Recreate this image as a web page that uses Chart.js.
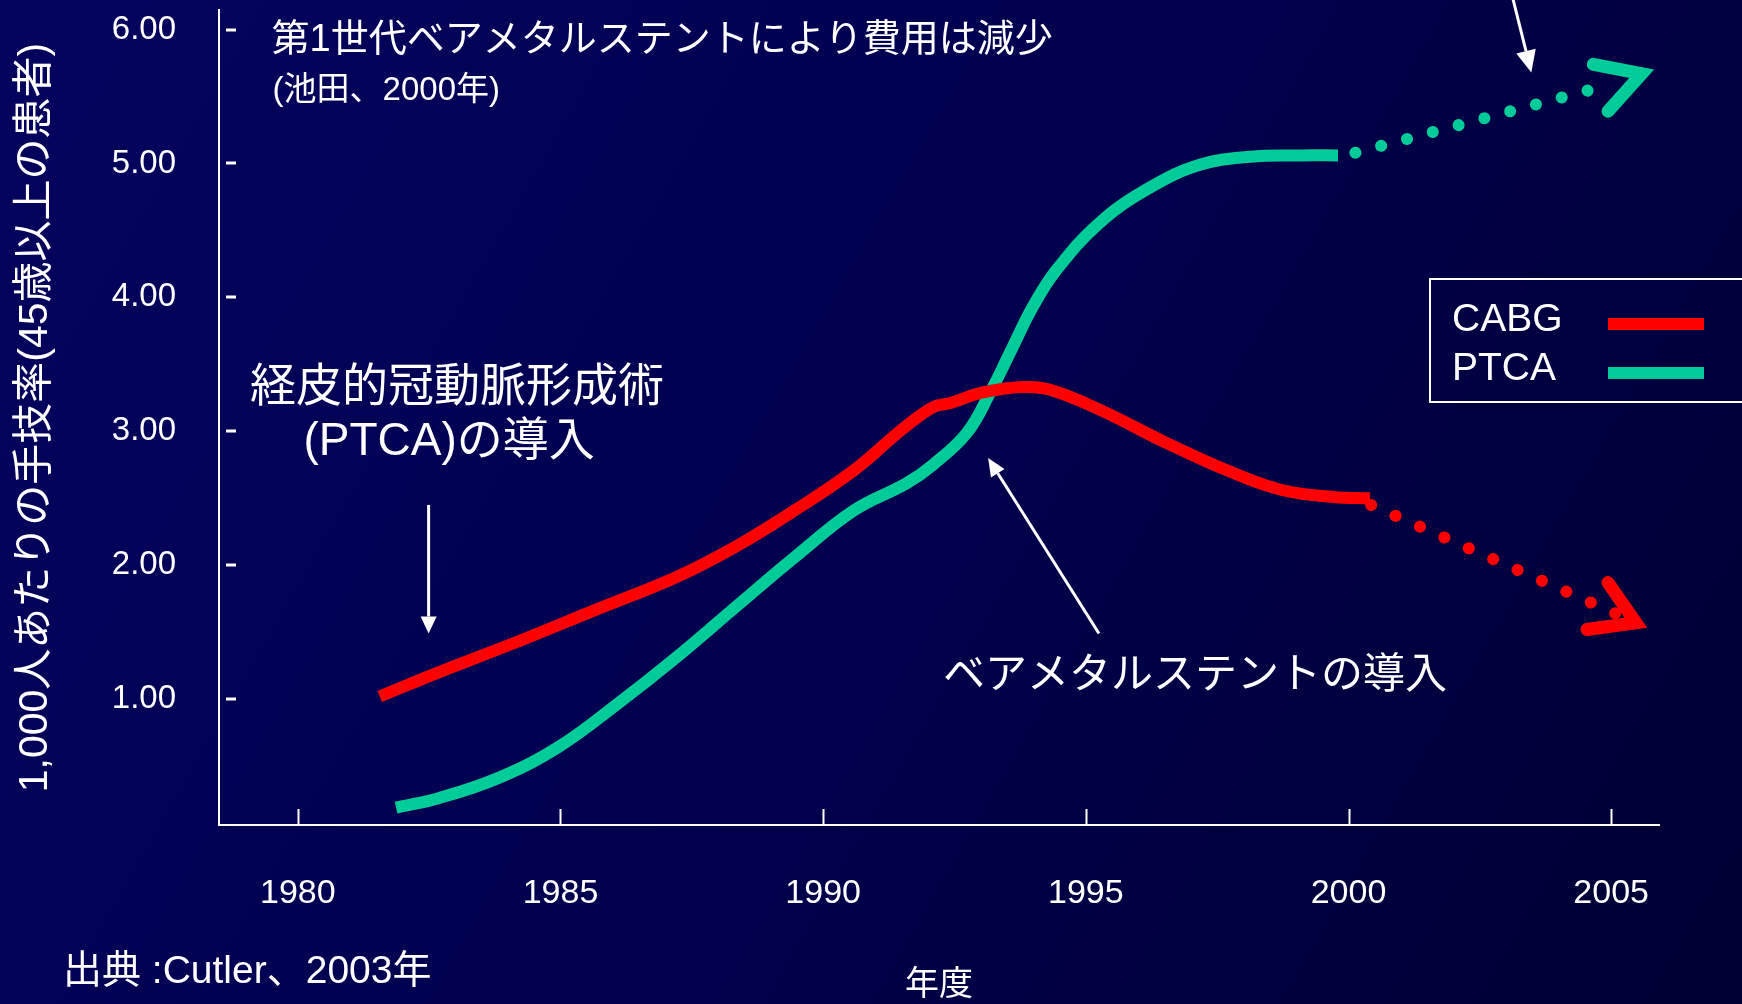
<!DOCTYPE html>
<html lang="ja">
<head>
<meta charset="UTF-8">
<title>CABG・PTCA 手技率の推移</title>
<script src="https://cdn.jsdelivr.net/npm/chart.js"></script>
<style>
  html, body { margin: 0; padding: 0; background: #00004a; overflow: hidden; }
  #wrap { width: 1742px; height: 1004px; }
</style>
</head>
<body>
<div id="wrap"><canvas id="rateChart" width="1742" height="1004"></canvas></div>
<script>
// 年度と目盛り
const years = [1980, 1985, 1990, 1995, 2000, 2005];
const rateTicks = [1, 2, 3, 4, 5, 6];

// CABG(冠動脈バイパス術)
const cabgYears = [1981.56, 1982.68, 1984.19, 1985.69, 1987.20, 1988.34, 1989.46, 1990.59,
                   1991.52, 1992.09, 1992.41, 1993.04, 1993.80, 1994.32, 1995.27, 1996.55,
                   1997.80, 1998.75, 1999.71, 2000.41];
const cabgRates = [1.02, 1.20, 1.43, 1.67, 1.91, 2.14, 2.41, 2.71,
                   3.02, 3.18, 3.21, 3.29, 3.33, 3.31, 3.16, 2.91,
                   2.69, 2.56, 2.51, 2.50];

// PTCA(経皮的冠動脈形成術)
const ptcaYears = [1981.87, 1982.68, 1983.81, 1984.95, 1986.07, 1987.20, 1988.34, 1989.46,
                   1990.59, 1991.58, 1992.09, 1992.74, 1993.18, 1993.56, 1993.99, 1994.45,
                   1995.27, 1996.22, 1997.17, 1998.13, 1999.08, 1999.80];
const ptcaRates = [0.19, 0.26, 0.41, 0.64, 0.96, 1.31, 1.69, 2.06,
                   2.41, 2.61, 2.75, 2.99, 3.29, 3.59, 3.93, 4.21,
                   4.56, 4.82, 4.99, 5.05, 5.06, 5.06];

// 2000年以降の見通し(点線)
const cabgTrendYears = [2000.43, 2005.08];
const cabgTrendRates = [2.45, 1.64];
const ptcaTrendYears = [2000.13, 2004.99];
const ptcaTrendRates = [5.08, 5.59];

// 点線の先の矢じり
const cabgHeadYears = [2004.94, 2005.47, 2004.54];
const cabgHeadRates = [1.87, 1.57, 1.52];
const ptcaHeadYears = [2004.66, 2005.58, 2004.94];
const ptcaHeadRates = [5.74, 5.67, 5.39];

const RED = '#ff0000';
const TEAL = '#00cc99';
const FONT = '"Liberation Sans", "Noto Sans CJK JP", sans-serif';

const pts = (xs, ys) => xs.map((x, i) => ({ x: x, y: ys[i] }));

// 注記(位置は年度・手技率で指定)
const notes = [
  { text: '第1世代ベアメタルステントにより費用は減少', x: 1979.50, y: 5.915, size: 38, align: 'left' },
  { text: '(池田、2000年)', x: 1979.52, y: 5.54, size: 33, align: 'left' },
  { text: '経皮的冠動脈形成術', x: 1983.03, y: 3.32, size: 46, align: 'center' },
  { text: '(PTCA)の導入', x: 1982.88, y: 2.92, size: 46, align: 'center' },
  { text: 'ベアメタルステントの導入', x: 1992.28, y: 1.17, size: 42, align: 'left' }
];
const arrows = [
  { from: [1982.49, 2.45], to: [1982.49, 1.49], head: 17, width: 16 },
  { from: [1995.25, 1.49], to: [1993.14, 2.80], head: 18, width: 16 },
  { from: [2003.11, 6.26], to: [2003.48, 5.68], head: 22, width: 20 }
];

function drawArrow(ctx, x1, y1, x2, y2, head, width) {
  const ang = Math.atan2(y2 - y1, x2 - x1);
  const bx = x2 - head * Math.cos(ang), by = y2 - head * Math.sin(ang);
  ctx.strokeStyle = '#fff';
  ctx.fillStyle = '#fff';
  ctx.lineWidth = 3;
  ctx.beginPath();
  ctx.moveTo(x1, y1);
  ctx.lineTo(bx, by);
  ctx.stroke();
  ctx.beginPath();
  ctx.moveTo(x2, y2);
  ctx.lineTo(bx + width / 2 * Math.sin(ang), by - width / 2 * Math.cos(ang));
  ctx.lineTo(bx - width / 2 * Math.sin(ang), by + width / 2 * Math.cos(ang));
  ctx.closePath();
  ctx.fill();
}

const slideDecor = {
  id: 'slideDecor',
  beforeDraw(chart) {
    const { ctx, width, height } = chart;
    const g = ctx.createLinearGradient(0, 0, width, height);
    g.addColorStop(0, '#04045f');
    g.addColorStop(0.5, '#00004e');
    g.addColorStop(1, '#000033');
    ctx.save();
    ctx.fillStyle = g;
    ctx.fillRect(0, 0, width, height);
    ctx.restore();
  },
  afterDraw(chart) {
    const { ctx, chartArea } = chart;
    const xs = chart.scales.x, ys = chart.scales.y;
    ctx.save();

    // 目盛り線(軸の内側)
    ctx.strokeStyle = '#fff';
    ctx.lineWidth = 2;
    years.forEach(v => {
      const px = Math.round(xs.getPixelForValue(v)) + 0.5;
      ctx.beginPath();
      ctx.moveTo(px, chartArea.bottom);
      ctx.lineTo(px, chartArea.bottom - 16);
      ctx.stroke();
    });
    ctx.lineWidth = 3;
    rateTicks.forEach(v => {
      const py = Math.round(ys.getPixelForValue(v));
      ctx.beginPath();
      ctx.moveTo(chartArea.left + 7, py);
      ctx.lineTo(chartArea.left + 17, py);
      ctx.stroke();
    });

    // 凡例
    ctx.lineWidth = 2;
    ctx.strokeRect(1430, 279, 330, 123);
    ctx.font = '39px ' + FONT;
    ctx.textBaseline = 'middle';
    ctx.textAlign = 'left';
    [0, 1].forEach((i, k) => {
      const ds = chart.data.datasets[i];
      const cy = 320 + k * 49;
      ctx.fillStyle = '#fff';
      ctx.fillText(ds.label, 1452, cy);
      ctx.fillStyle = ds.borderColor;
      ctx.fillRect(1608, cy - 2, 96, 12);
    });

    // 注記
    ctx.fillStyle = '#fff';
    notes.forEach(n => {
      ctx.font = n.size + 'px ' + FONT;
      ctx.textAlign = n.align;
      ctx.fillText(n.text, xs.getPixelForValue(n.x), ys.getPixelForValue(n.y));
    });
    arrows.forEach(a => {
      drawArrow(ctx,
        xs.getPixelForValue(a.from[0]), ys.getPixelForValue(a.from[1]),
        xs.getPixelForValue(a.to[0]), ys.getPixelForValue(a.to[1]),
        a.head, a.width);
    });

    // 出典
    ctx.fillStyle = '#fff';
    ctx.font = '39px ' + FONT;
    ctx.textAlign = 'left';
    ctx.fillText('出典 :Cutler、2003年', 63, 972);
    ctx.restore();
  }
};

const tickFont = { family: FONT, size: 34 };

new Chart(document.getElementById('rateChart'), {
  type: 'line',
  data: {
    datasets: [
      { label: 'CABG', data: pts(cabgYears, cabgRates), borderColor: RED, borderWidth: 12,
        tension: 0.4, pointRadius: 0, borderCapStyle: 'butt', borderJoinStyle: 'round' },
      { label: 'PTCA', data: pts(ptcaYears, ptcaRates), borderColor: TEAL, borderWidth: 12,
        tension: 0.4, pointRadius: 0, borderCapStyle: 'butt', borderJoinStyle: 'round' },
      { label: 'CABG見通し', data: pts(cabgTrendYears, cabgTrendRates), borderColor: RED, borderWidth: 12,
        borderDash: [0.1, 26.6], borderCapStyle: 'round', pointRadius: 0 },
      { label: 'PTCA見通し', data: pts(ptcaTrendYears, ptcaTrendRates), borderColor: TEAL, borderWidth: 12,
        borderDash: [0.1, 26.6], borderCapStyle: 'round', pointRadius: 0 },
      { label: 'CABG矢印', data: pts(cabgHeadYears, cabgHeadRates), borderColor: RED, borderWidth: 13,
        borderCapStyle: 'round', borderJoinStyle: 'miter', pointRadius: 0 },
      { label: 'PTCA矢印', data: pts(ptcaHeadYears, ptcaHeadRates), borderColor: TEAL, borderWidth: 13,
        borderCapStyle: 'round', borderJoinStyle: 'miter', pointRadius: 0 }
    ]
  },
  options: {
    responsive: false,
    animation: false,
    clip: false,
    layout: { padding: { top: 10, right: 83, left: 0, bottom: 0 } },
    plugins: { legend: { display: false }, tooltip: { enabled: false } },
    scales: {
      x: {
        type: 'linear',
        min: 1978.5,
        max: 2005.91,
        afterBuildTicks: s => { s.ticks = years.map(v => ({ value: v })); },
        afterFit: s => { s.height = 179; s.paddingLeft = 0; s.paddingRight = 0; },
        grid: { display: false, drawTicks: false },
        border: { color: '#ffffff', width: 2 },
        ticks: { color: '#fff', padding: 48, font: tickFont, maxRotation: 0, autoSkip: false,
                 callback: v => String(v) },
        title: { display: true, text: '年度', color: '#fff',
                 font: { family: FONT, size: 34, lineHeight: 1 }, padding: { top: 0, bottom: 1 } }
      },
      y: {
        min: 0.06,
        max: 6.146,
        afterBuildTicks: s => { s.ticks = rateTicks.map(v => ({ value: v })); },
        afterFit: s => { s.width = 219; s.paddingTop = 0; s.paddingBottom = 0; },
        grid: { display: false, drawTicks: false },
        border: { color: '#ffffff', width: 2 },
        ticks: { color: '#fff', padding: 43, font: { family: FONT, size: 33 },
                 callback: v => v.toFixed(2) },
        title: { display: true, text: '1,000人あたりの手技率(45歳以上の患者)', color: '#fff',
                 font: { family: FONT, size: 41 }, padding: { top: 11, bottom: 0 } }
      }
    }
  },
  plugins: [slideDecor]
});
</script>
</body>
</html>
